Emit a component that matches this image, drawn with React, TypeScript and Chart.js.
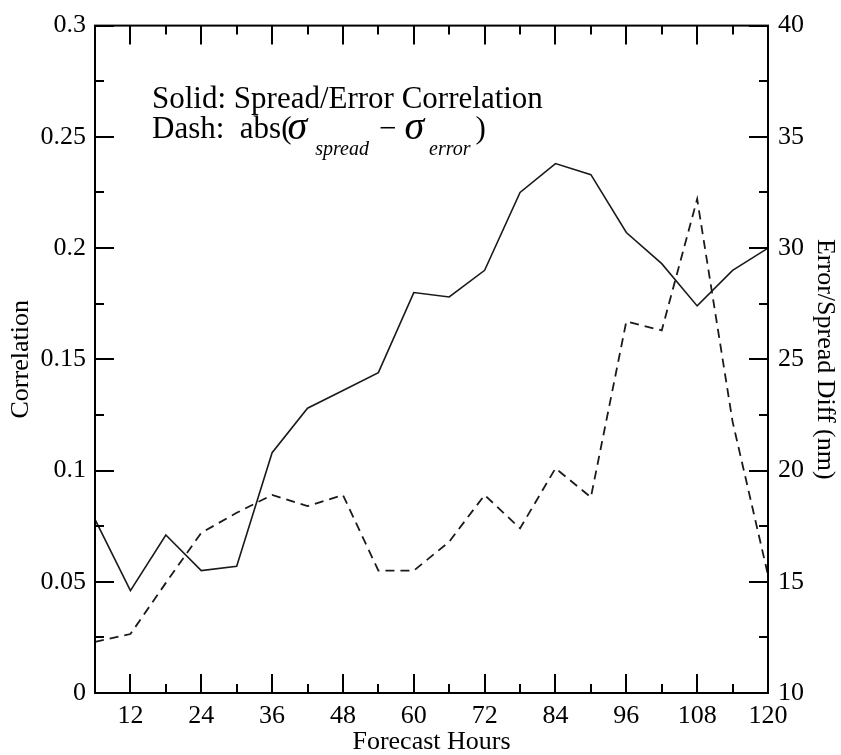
import React, { useEffect, useRef } from "react";
import { Chart, registerables } from "chart.js";

Chart.register(...registerables);

// ---- data ----
const forecastHours = [6, 12, 18, 24, 30, 36, 42, 48, 54, 60, 66, 72, 78, 84, 90, 96, 102, 108, 114, 120];
const spreadErrorCorrelation = [
  0.078, 0.046, 0.071, 0.055, 0.057, 0.108, 0.128, 0.136, 0.144, 0.18,
  0.178, 0.19, 0.225, 0.238, 0.233, 0.207, 0.193, 0.174, 0.19, 0.2,
];
const errorSpreadDiff = [
  12.3, 12.65, 14.95, 17.2, 18.1, 18.9, 18.4, 18.9, 15.5, 15.5,
  16.8, 18.9, 17.4, 20.1, 18.8, 26.7, 26.3, 32.2, 22.2, 15.3,
];
const xMajorStep = 12;
const leftMajorStep = 0.05;
const rightMajorStep = 5;

const SERIF = "'Liberation Serif', 'Times New Roman', serif";

const isMultiple = (v: number, step: number) => {
  const r = v / step;
  return Math.abs(r - Math.round(r)) < 1e-6;
};

const framePlugin = {
  id: "framePlugin",
  afterDraw(chart: any) {
    const { ctx, chartArea, scales } = chart;
    const { left, right, top, bottom } = chartArea;
    ctx.save();
    ctx.strokeStyle = "#000";
    ctx.lineWidth = 2;
    ctx.strokeRect(left, top, right - left, bottom - top);
    const major = 19;
    const minor = 9;
    ctx.beginPath();
    for (const t of scales.x.ticks) {
      const px = Math.round(scales.x.getPixelForValue(t.value));
      const len = isMultiple(t.value, xMajorStep) ? major : minor;
      ctx.moveTo(px, bottom);
      ctx.lineTo(px, bottom - len);
      ctx.moveTo(px, top);
      ctx.lineTo(px, top + len);
    }
    for (const t of scales.y.ticks) {
      const py = Math.round(scales.y.getPixelForValue(t.value));
      const len = isMultiple(t.value, leftMajorStep) ? major : minor;
      ctx.moveTo(left, py);
      ctx.lineTo(left + len, py);
    }
    for (const t of scales.y1.ticks) {
      const py = Math.round(scales.y1.getPixelForValue(t.value));
      const len = isMultiple(t.value, rightMajorStep) ? major : minor;
      ctx.moveTo(right, py);
      ctx.lineTo(right - len, py);
    }
    ctx.stroke();

    // annotation text
    ctx.fillStyle = "#000";
    ctx.textBaseline = "alphabetic";
    ctx.textAlign = "left";
    const x0 = 152;
    ctx.font = `31px ${SERIF}`;
    ctx.fillText("Solid: Spread/Error Correlation", x0, 108);

    let x = x0;
    const base = 138;
    ctx.font = `31px ${SERIF}`;
    const s1 = "Dash:  abs(";
    ctx.fillText(s1, x, base);
    x += ctx.measureText(s1).width - 4;
    ctx.font = `italic 40px ${SERIF}`;
    ctx.fillText("σ", x, base + 1);
    x += ctx.measureText("σ").width + 8;
    ctx.font = `italic 20px ${SERIF}`;
    ctx.fillText("spread", x, base + 17);
    x += ctx.measureText("spread").width + 10;
    ctx.font = `31px ${SERIF}`;
    ctx.fillText("−", x, base);
    x += ctx.measureText("−").width + 8;
    ctx.font = `italic 40px ${SERIF}`;
    ctx.fillText("σ", x, base + 1);
    x += ctx.measureText("σ").width + 5;
    ctx.font = `italic 20px ${SERIF}`;
    ctx.fillText("error", x, base + 17);
    x += ctx.measureText("error").width + 5;
    ctx.font = `31px ${SERIF}`;
    ctx.fillText(")", x, base);
    ctx.restore();
  },
};

export default function App() {
  const canvasRef = useRef<HTMLCanvasElement | null>(null);

  useEffect(() => {
    document.body.style.margin = "0";
    const canvas = canvasRef.current;
    if (!canvas) return;
    const tickFont = { family: SERIF, size: 26 };
    const chart = new Chart(canvas, {
      type: "line",
      data: {
        labels: forecastHours,
        datasets: [
          {
            label: "Spread/Error Correlation",
            data: forecastHours.map((h, i) => ({ x: h, y: spreadErrorCorrelation[i] })),
            yAxisID: "y",
            borderColor: "#1a1a1a",
            borderWidth: 1.6,
            pointRadius: 0,
            tension: 0,
            fill: false,
          },
          {
            label: "abs(sigma_spread - sigma_error)",
            data: forecastHours.map((h, i) => ({ x: h, y: errorSpreadDiff[i] })),
            yAxisID: "y1",
            borderColor: "#1a1a1a",
            borderWidth: 1.8,
            borderDash: [9, 6],
            pointRadius: 0,
            tension: 0,
            fill: false,
          },
        ],
      },
      options: {
        animation: false,
        responsive: false,
        maintainAspectRatio: false,
        layout: { padding: { top: 19, left: 0, right: 0, bottom: 0 } },
        plugins: {
          legend: { display: false },
          tooltip: { enabled: false },
          title: { display: false },
        },
        scales: {
          x: {
            type: "linear",
            min: 6,
            max: 120,
            afterFit: (s: any) => {
              s.height = 62;
            },
            grid: { display: false, drawTicks: false },
            border: { display: false },
            ticks: {
              stepSize: 6,
              autoSkip: false,
              maxRotation: 0,
              padding: 8,
              color: "#000",
              font: tickFont,
              callback: (v: any) => (isMultiple(Number(v), xMajorStep) ? String(v) : ""),
            },
            title: {
              display: true,
              text: "Forecast Hours",
              color: "#000",
              font: { family: SERIF, size: 26, lineHeight: 1 },
              padding: { top: 0, bottom: 0 },
            },
          },
          y: {
            position: "left",
            min: 0,
            max: 0.3,
            afterFit: (s: any) => {
              s.width = 95;
            },
            grid: { display: false, drawTicks: false },
            border: { display: false },
            ticks: {
              stepSize: 0.025,
              autoSkip: false,
              padding: 9,
              color: "#000",
              font: tickFont,
              callback: (v: any) =>
                isMultiple(Number(v), leftMajorStep) ? String(parseFloat(Number(v).toFixed(3))) : "",
            },
            title: {
              display: true,
              text: "Correlation",
              color: "#000",
              font: { family: SERIF, size: 26, lineHeight: 1 },
              padding: { top: 8, bottom: 0 },
            },
          },
          y1: {
            position: "right",
            min: 10,
            max: 40,
            afterFit: (s: any) => {
              s.width = 73;
            },
            grid: { display: false, drawTicks: false },
            border: { display: false },
            ticks: {
              stepSize: 2.5,
              autoSkip: false,
              padding: 10,
              color: "#000",
              font: tickFont,
              callback: (v: any) => (isMultiple(Number(v), rightMajorStep) ? String(v) : ""),
            },
            title: {
              display: true,
              text: "Error/Spread Diff (nm)",
              color: "#000",
              font: { family: SERIF, size: 26, lineHeight: 1 },
              padding: { top: 3, bottom: 0 },
            },
          },
        },
      },
      plugins: [framePlugin],
    });
    return () => chart.destroy();
  }, []);

  return (
    <div style={{ width: 841, height: 755, background: "#fff" }}>
      <canvas ref={canvasRef} width={841} height={755} style={{ display: "block", width: 841, height: 755 }} />
    </div>
  );
}
